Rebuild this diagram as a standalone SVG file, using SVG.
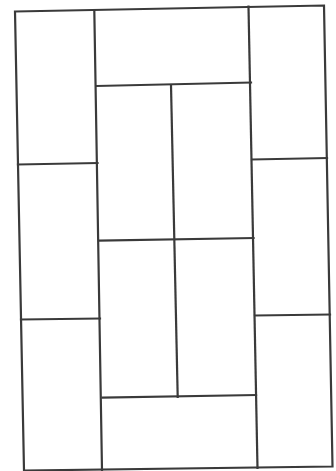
<svg xmlns="http://www.w3.org/2000/svg" width="336" height="471" viewBox="0 0 336 471">
<style>
.l{stroke:#3a3a3a;stroke-width:2.2;fill:none;stroke-linecap:square}
</style>
<rect width="336" height="471" fill="#ffffff"/>
<g id="plan" class="l">
<path d="M15,11.5 L324,5.5 L332.5,466.5 L24,470.5 Z"/>
<line x1="94.3" y1="10" x2="102" y2="470"/>
<line x1="248.5" y1="6.5" x2="257.5" y2="468"/>
<line x1="96.5" y1="86" x2="251" y2="82.5"/>
<line x1="171" y1="85" x2="177.7" y2="397"/>
<line x1="99.5" y1="240.7" x2="253.5" y2="238"/>
<line x1="102.5" y1="397.7" x2="256" y2="395"/>
<line x1="18" y1="164.5" x2="97.5" y2="163"/>
<line x1="21" y1="319.5" x2="100" y2="318.5"/>
<line x1="252" y1="159.5" x2="327" y2="158"/>
<line x1="255" y1="315.5" x2="330" y2="314.5"/>
</g>
</svg>
